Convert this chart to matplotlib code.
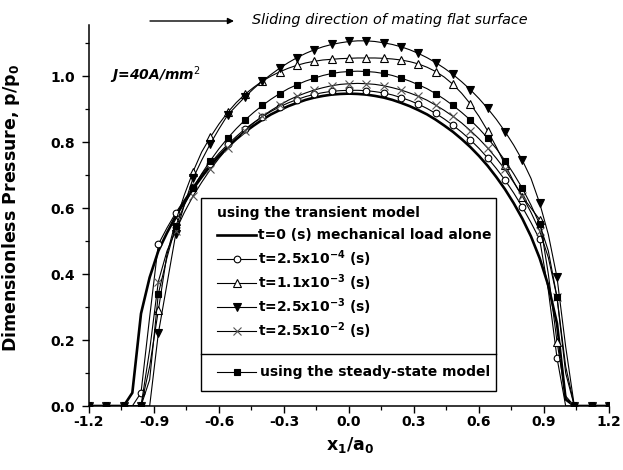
import numpy as np
import matplotlib
matplotlib.use("Agg")
import matplotlib.pyplot as plt
from matplotlib.patches import Rectangle

# ---------------- data ----------------
x_grid = np.linspace(-1.2, 1.2, 61)   # x1/a0, step 0.04 (markers every 0.08)

p_mech = [0, 0, 0, 0, 0, 0.04, 0.28, 0.39, 0.47, 0.525,
          0.575, 0.618, 0.658, 0.694, 0.728, 0.758, 0.785, 0.809, 0.831, 0.850,
          0.868, 0.884, 0.897, 0.909, 0.919, 0.928, 0.935, 0.940, 0.944, 0.946,
          0.947,
          0.946, 0.944, 0.940, 0.935, 0.928, 0.919, 0.909, 0.897, 0.884, 0.868,
          0.850, 0.831, 0.809, 0.785, 0.758, 0.728, 0.694, 0.657, 0.615, 0.568,
          0.514, 0.448, 0.365, 0.25, 0.02, 0, 0, 0, 0, 0]

p_t1 = [0, 0, 0, 0, 0, 0, 0.04, 0.27, 0.49, 0.54,
        0.585, 0.625, 0.664, 0.702, 0.735, 0.766, 0.793, 0.817, 0.840, 0.859,
        0.877, 0.893, 0.907, 0.919, 0.929, 0.938, 0.945, 0.950, 0.954, 0.956,
        0.957,
        0.957, 0.956, 0.953, 0.949, 0.943, 0.935, 0.926, 0.915, 0.902, 0.887,
        0.870, 0.851, 0.830, 0.807, 0.781, 0.752, 0.720, 0.685, 0.646, 0.603,
        0.556, 0.505, 0.35, 0.146, 0.0, 0, 0, 0, 0, 0]

p_t2 = [0, 0, 0, 0, 0, 0, 0.0, 0.12, 0.29, 0.46,
        0.56, 0.64, 0.71, 0.77, 0.815, 0.855, 0.89, 0.92, 0.945, 0.966,
        0.985, 1.000, 1.013, 1.024, 1.033, 1.040, 1.045, 1.049, 1.051, 1.053,
        1.054,
        1.055, 1.055, 1.055, 1.054, 1.052, 1.049, 1.044, 1.037, 1.027, 1.014,
        0.997, 0.975, 0.948, 0.916, 0.878, 0.834, 0.785, 0.732, 0.68, 0.635,
        0.60, 0.565, 0.40, 0.195, 0.03, 0, 0, 0, 0, 0]

p_t3 = [0, 0, 0, 0, 0, 0, 0, 0, 0.22, 0.37,
        0.52, 0.61, 0.69, 0.745, 0.795, 0.84, 0.882, 0.910, 0.937, 0.962,
        0.985, 1.005, 1.024, 1.041, 1.056, 1.069, 1.080, 1.089, 1.096, 1.101,
        1.105,
        1.107, 1.107, 1.105, 1.101, 1.096, 1.089, 1.080, 1.069, 1.056, 1.041,
        1.024, 1.005, 0.983, 0.959, 0.932, 0.902, 0.869, 0.832, 0.791, 0.745,
        0.690, 0.615, 0.52, 0.39, 0.18, 0, 0, 0, 0, 0]

p_t4 = [0, 0, 0, 0, 0, 0, 0, 0.17, 0.377, 0.47,
        0.531, 0.587, 0.636, 0.678, 0.717, 0.751, 0.782, 0.810, 0.835, 0.858,
        0.878, 0.896, 0.912, 0.927, 0.939, 0.949, 0.958, 0.965, 0.971, 0.975,
        0.977,
        0.978, 0.977, 0.975, 0.971, 0.965, 0.958, 0.949, 0.939, 0.927, 0.912,
        0.896, 0.878, 0.858, 0.835, 0.810, 0.782, 0.751, 0.717, 0.678, 0.636,
        0.587, 0.531, 0.45, 0.33, 0.10, 0, 0, 0, 0, 0]

p_steady = [0, 0, 0, 0, 0, 0, 0, 0.08, 0.34, 0.45,
            0.545, 0.609, 0.660, 0.704, 0.744, 0.780, 0.812, 0.841, 0.867, 0.890,
            0.911, 0.930, 0.947, 0.962, 0.974, 0.985, 0.994, 1.002, 1.008, 1.012,
            1.014,
            1.015, 1.014, 1.012, 1.008, 1.002, 0.994, 0.985, 0.974, 0.962, 0.947,
            0.930, 0.911, 0.890, 0.867, 0.841, 0.812, 0.780, 0.744, 0.704, 0.660,
            0.609, 0.551, 0.47, 0.33, 0.12, 0, 0, 0, 0, 0]

legend_title = "using the transient model"
labels = ["t=0 (s) mechanical load alone",
          r"t=2.5x10$^{\mathbf{-4}}$ (s)",
          r"t=1.1x10$^{\mathbf{-3}}$ (s)",
          r"t=2.5x10$^{\mathbf{-3}}$ (s)",
          r"t=2.5x10$^{\mathbf{-2}}$ (s)"]
steady_label = "using the steady-state model"

x_ticks = [-1.2, -0.9, -0.6, -0.3, 0.0, 0.3, 0.6, 0.9, 1.2]
y_ticks = [0.0, 0.2, 0.4, 0.6, 0.8, 1.0]

# ---------------- styles ----------------
plt.rcParams['font.family'] = ['DejaVu Sans']
plt.rcParams['mathtext.fontset'] = 'dejavusans'

W, H = 623, 470
fig = plt.figure(figsize=(W / 100, H / 100), dpi=100)
ax = fig.add_axes([89 / W, (H - 406) / H, 520 / W, 381 / H])

styles = [
    dict(color='black', lw=1.9, marker=None),
    dict(color='black', lw=0.8, marker='o', ms=4.8, mfc='white', mec='black', mew=0.8),
    dict(color='black', lw=0.8, marker='^', ms=6.0, mfc='white', mec='black', mew=0.8),
    dict(color='black', lw=0.8, marker='v', ms=6.0, mfc='black', mec='black', mew=0.8),
    dict(color='black', lw=0.8, marker='x', ms=5.5, mfc='none', mec='#555555', mew=0.8),
]
steady_style = dict(color='black', lw=0.8, marker='s', ms=4.6, mfc='black', mec='black', mew=0.8)

series = [p_mech, p_t1, p_t2, p_t3, p_t4]
for vals, st in zip(series, styles):
    ax.plot(x_grid, vals, markevery=2, **st)
ax.plot(x_grid, p_steady, markevery=2, **steady_style)

ax.set_xlim(-1.2, 1.2)
ax.set_ylim(0, 1.155)
ax.set_xticks(x_ticks)
ax.set_xticklabels([f"{v:.1f}" for v in x_ticks])
ax.set_xticks(np.arange(-1.2, 1.21, 0.15), minor=True)
ax.set_yticks(y_ticks)
ax.set_yticklabels([f"{v:.1f}" for v in y_ticks])
ax.set_yticks(np.arange(0, 1.151, 0.1), minor=True)

for s in ['top', 'right']:
    ax.spines[s].set_visible(False)
for s in ['left', 'bottom']:
    ax.spines[s].set_linewidth(1.1)

ax.tick_params(which='major', direction='out', length=5, width=1.0, labelsize=10)
ax.tick_params(which='minor', direction='out', length=2.7, width=0.9)
ax.tick_params(axis='y', which='major', pad=5)
ax.tick_params(axis='x', which='major', pad=1.5)
for lab in ax.get_xticklabels() + ax.get_yticklabels():
    lab.set_fontweight('bold')

ax.set_ylabel(r"Dimensionless Pressure, p/p$_\mathbf{0}$", fontsize=12.5, fontweight='bold')
ax.yaxis.set_label_coords(-0.129, 0.52)
ax.set_xlabel(r"$\mathbf{x_1/a_0}$", fontsize=12.5, va='center')
ax.xaxis.set_label_coords(0.502, -0.103)

# annotations
fig.text(252 / W, 1 - 20 / H, "Sliding direction of mating flat surface",
         fontsize=10.4, style='italic', va='center', ha='left')
ax.annotate('', xy=(234 / W, 1 - 21 / H), xytext=(150 / W, 1 - 21 / H),
            xycoords='figure fraction', textcoords='figure fraction',
            arrowprops=dict(arrowstyle='-|>', color='black', lw=1.0, mutation_scale=9,
                            shrinkA=0, shrinkB=0))
ax.text((110 - 89) / 520, (406 - 75) / 381, r"J=40A/mm$^\mathit{2}$", transform=ax.transAxes,
        fontsize=10, style='italic', fontweight='bold', va='center', ha='left')

# ---------------- legend (framed, with separator) ----------------
def ax_x(px):
    return (px - 89) / 520

def ax_y(py):
    return (406 - py) / 381

box = Rectangle((ax_x(201), ax_y(391)), ax_x(496) - ax_x(201), ax_y(198) - ax_y(391),
                transform=ax.transAxes, facecolor='white', edgecolor='black', lw=1.0,
                zorder=10, clip_on=False)
ax.add_patch(box)
ax.plot([ax_x(201), ax_x(496)], [ax_y(354), ax_y(354)], transform=ax.transAxes,
        color='black', lw=1.0, zorder=11, clip_on=False)
ax.text(ax_x(217), ax_y(213), legend_title, transform=ax.transAxes, fontsize=10,
        fontweight='bold', va='center', ha='left', zorder=12)
rows = [235, 259, 283, 307, 331]
for py, st, lab in zip(rows, styles, labels):
    ax.plot([ax_x(217), ax_x(237), ax_x(256)], [ax_y(py)] * 3, transform=ax.transAxes,
            markevery=[1], zorder=12, clip_on=False, **st)
    ax.text(ax_x(258), ax_y(py), lab, transform=ax.transAxes, fontsize=10,
            fontweight='bold', va='center', ha='left', zorder=12)
ax.plot([ax_x(217), ax_x(237), ax_x(256)], [ax_y(372)] * 3, transform=ax.transAxes,
        markevery=[1], zorder=12, clip_on=False, **steady_style)
ax.text(ax_x(260), ax_y(372), steady_label, transform=ax.transAxes, fontsize=10,
        fontweight='bold', va='center', ha='left', zorder=12)

fig.savefig("out.png", dpi=100)
